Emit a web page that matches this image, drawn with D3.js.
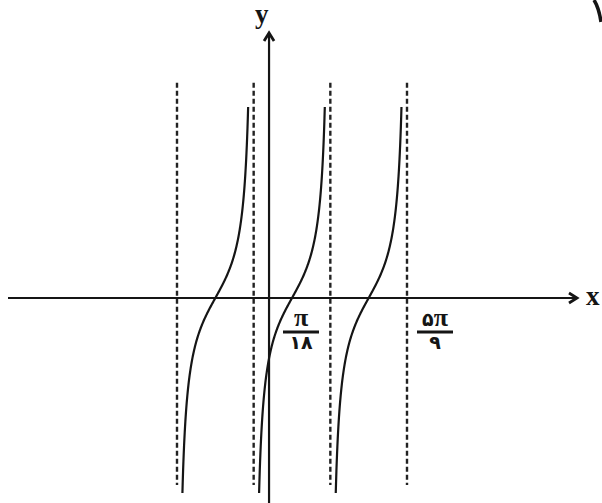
<!DOCTYPE html>
<html>
<head>
<meta charset="utf-8">
<script src="https://cdn.jsdelivr.net/npm/d3@7"></script>
<style>
  html, body { margin: 0; padding: 0; background: #fff; }
  svg { display: block; }
</style>
</head>
<body>
<svg id="chart" width="602" height="503"></svg>
<script>
// ---------- data ----------
const PI = Math.PI;
// vertical asymptotes of y = tan(3x - π/6)
const asymptotes = [-4 * PI / 9, -PI / 9, 2 * PI / 9, 5 * PI / 9];
// branch index n: θ = 3x - π/6 runs from -π/2 to π/2 shifted by nπ
const branches = [-1, 0, 1];
// visible y-extent of each branch
const branchYRange = [-4.43, 4.34];
// visible y-extent of the dashed asymptotes
const asymptoteYRange = [-4.25, 4.89];
// tick labels on the x axis: value, numerator, denominator
const tickLabels = [
  { value: PI / 18, num: ["", "π"], den: "۱۸" },
  { value: 5 * PI / 9, num: ["۵", "π"], den: "۹" }
];
// where the y axis is drawn (hand-drawn figure, not to scale)
const yAxisAt = -0.139;
const axisLabels = { x: "x", y: "y" };

// ---------- scales ----------
const svg = d3.select("#chart");
const x = d3.scaleLinear().domain([-4 * PI / 9, 5 * PI / 9]).range([177, 407]);
const y = d3.scaleLinear().domain([-5, 5]).range([518, 78]);

const ink = "#151515";
const x0 = x(yAxisAt), y0 = y(0);

// ---------- asymptotes ----------
svg.append("g").selectAll("line").data(asymptotes).join("line")
  .attr("x1", d => x(d)).attr("x2", d => x(d))
  .attr("y1", y(asymptoteYRange[1])).attr("y2", y(asymptoteYRange[0]))
  .attr("stroke", "#222").attr("stroke-width", 2.4)
  .attr("stroke-dasharray", "5,3");

// ---------- axes ----------
const axes = svg.append("g").attr("stroke", ink).attr("fill", "none").attr("stroke-width", 2.2);
axes.append("line").attr("x1", 8).attr("x2", 577).attr("y1", y0).attr("y2", y0);
axes.append("path").attr("d", `M${577 - 8},${y0 - 5}L577,${y0}L${577 - 8},${y0 + 5}`).attr("stroke-width", 2.8);
axes.append("line").attr("x1", x0).attr("x2", x0).attr("y1", 503).attr("y2", 33);
axes.append("path").attr("d", `M${x0 - 5},${33 + 8}L${x0},33L${x0 + 5},${33 + 8}`).attr("stroke-width", 2.8);

svg.append("text").attr("x", 586).attr("y", y0 + 7).text(axisLabels.x)
  .attr("font-family", "Liberation Serif, serif").attr("font-weight", "bold").attr("font-size", 27).attr("fill", ink);
svg.append("text").attr("x", 255).attr("y", 23).text(axisLabels.y)
  .attr("font-family", "Liberation Serif, serif").attr("font-weight", "bold").attr("font-size", 27).attr("fill", ink);

// scan artefact at top-right corner
svg.append("path").attr("d", "M594,0 Q599,8 601,22").attr("fill", "none").attr("stroke", ink).attr("stroke-width", 3.5);

// ---------- branches ----------
const line = d3.line().x(d => x(d[0])).y(d => y(d[1])).curve(d3.curveLinear);
const tLo = Math.atan(branchYRange[0]), tHi = Math.atan(branchYRange[1]);
svg.append("g").selectAll("path").data(branches).join("path")
  .attr("d", n => {
    const pts = d3.range(0, 201).map(i => {
      const t = tLo + (tHi - tLo) * i / 200;
      return [(t + PI / 6 + n * PI) / 3, Math.tan(t)];
    });
    return line(pts);
  })
  .attr("fill", "none").attr("stroke", ink).attr("stroke-width", 2.2);

// ---------- tick labels ----------
const offsets = [9, 28];
const lab = svg.append("g").attr("fill", ink).attr("font-weight", "bold").attr("text-anchor", "middle");
tickLabels.forEach((t, i) => {
  const cx = x(t.value) + offsets[i];
  const tn = lab.append("text").attr("x", cx).attr("y", y0 + 28);
  if (t.num[0]) tn.append("tspan").attr("font-family", "DejaVu Sans, sans-serif").attr("font-size", 19).text(t.num[0]);
  tn.append("tspan").attr("font-family", "Liberation Serif, serif").attr("font-size", 26).text(t.num[1]);
  lab.append("line").attr("x1", cx - 18).attr("x2", cx + 18)
    .attr("y1", y0 + 34).attr("y2", y0 + 34).attr("stroke", ink).attr("stroke-width", 2.8);
  lab.append("text").attr("x", cx).attr("y", y0 + 51)
    .attr("font-family", "DejaVu Sans, sans-serif").attr("font-size", 19).text(t.den);
});
</script>
</body>
</html>
